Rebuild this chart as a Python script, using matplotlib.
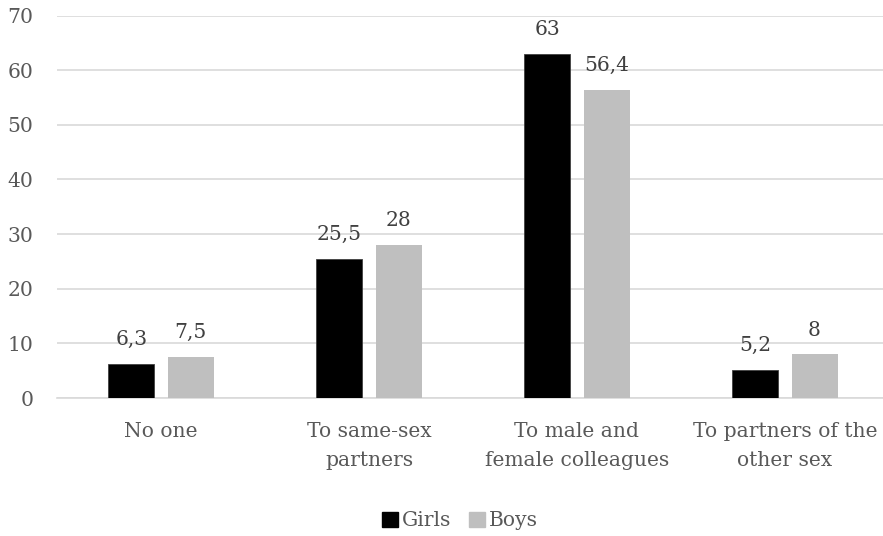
import matplotlib
matplotlib.use("Agg")
import matplotlib.pyplot as plt
from matplotlib.patches import Patch
import numpy as np

categories = ["No one", "To same-sex\npartners", "To male and\nfemale colleagues", "To partners of the\nother sex"]
girls = [6.3, 25.5, 63, 5.2]
boys = [7.5, 28, 56.4, 8]
girls_labels = ["6,3", "25,5", "63", "5,2"]
boys_labels = ["7,5", "28", "56,4", "8"]
yticks = [0, 10, 20, 30, 40, 50, 60, 70]

plt.rcParams['font.family'] = ['DejaVu Serif']
FS = 14.6

W, H = 883, 536
fig = plt.figure(figsize=(W/100, H/100), dpi=100)
ax = fig.add_axes([57/W, (H-398)/H, 832/W, 382.5/H])

x = np.arange(len(categories))
bw = 0.221
off = 0.142
ax.bar(x - off, girls, bw, color='black', edgecolor='#404040', linewidth=0.6, zorder=3, label='Girls')
ax.bar(x + off, boys, bw, color='#BFBFBF', linewidth=0, zorder=3, label='Boys')

for xi, v, t in zip(x - off, girls, girls_labels):
    ax.annotate(t, (xi, v), xytext=(0, 13.5), textcoords='offset points', ha='center', va='baseline',
                fontsize=FS, color='#404040')
for xi, v, t in zip(x + off, boys, boys_labels):
    ax.annotate(t, (xi, v), xytext=(0, 13.5), textcoords='offset points', ha='center', va='baseline',
                fontsize=FS, color='#404040')

ax.set_xlim(-0.5, len(categories) - 0.5)
ax.set_ylim(0, 70)
ax.set_yticks(yticks)
ax.set_yticklabels([str(v) for v in yticks], fontsize=FS, color='#595959')
ax.set_xticks(x)
ax.set_xticklabels(categories, fontsize=FS, color='#595959', linespacing=1.7)
ax.tick_params(axis='both', length=0)
ax.tick_params(axis='y', pad=17)
ax.tick_params(axis='x', pad=17)
ax.grid(axis='y', color='#D9D9D9', linewidth=1.2, zorder=0)
for s in ['top', 'right', 'left']:
    ax.spines[s].set_visible(False)
ax.spines['bottom'].set_color('#D9D9D9')
ax.spines['bottom'].set_linewidth(1.2)

handles = [Patch(facecolor='black', edgecolor='black'), Patch(facecolor='#BFBFBF', edgecolor='#BFBFBF')]
fig.legend(handles, ['Girls', 'Boys'], loc='center', bbox_to_anchor=(460/W, 1 - 521/H), ncol=2,
           frameon=False, fontsize=FS, handlelength=0.75, handleheight=0.75, handletextpad=0.2,
           columnspacing=0.9, labelcolor='#595959')

fig.savefig('out.png', dpi=100)
